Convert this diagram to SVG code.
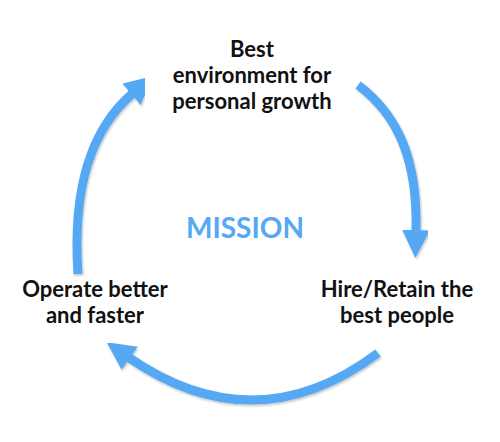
<svg xmlns="http://www.w3.org/2000/svg" width="500" height="442" viewBox="0 0 500 442">
<defs>
<style>
.lbl{font-family:Lato,"Liberation Sans",sans-serif;font-weight:bold;font-size:22px;fill:#111;text-anchor:middle}
.mission{font-family:Lato,"Liberation Sans",sans-serif;font-weight:bold;font-size:28px;fill:#55a8f4;text-anchor:middle}
.arc{fill:none;stroke:#55a8f4;stroke-width:9;marker-end:url(#ah);filter:url(#sh)}
</style>
<marker id="ah" markerUnits="userSpaceOnUse" markerWidth="30" markerHeight="30" refX="2" refY="14" orient="auto" viewBox="0 0 30 30">
<path d="M0,0 L28,14 L0,28 z" fill="#55a8f4"/>
</marker>
<filter id="sh" x="-20%" y="-20%" width="140%" height="140%">
<feDropShadow dx="1" dy="1.5" stdDeviation="1" flood-color="#000" flood-opacity="0.25"/>
</filter>
</defs>
<rect width="500" height="442" fill="#fff"/>
<g id="connectors">
<path class="arc" d="M358,85 C398,115 418,160 416,232"/>
<path class="arc" d="M378,353 Q255,445 128,357"/>
<path class="arc" d="M78,274 C72,185 92,128 133,93"/>
</g>
<g id="node-growth">
<text class="lbl" x="252" y="57">Best</text>
<text class="lbl" x="252" y="83">environment for</text>
<text class="lbl" x="252" y="109">personal growth</text>
</g>
<g id="node-mission">
<text class="mission" x="245" y="238">MISSION</text>
</g>
<g id="node-hire">
<text class="lbl" x="397" y="297">Hire/Retain the</text>
<text class="lbl" x="397" y="323">best people</text>
</g>
<g id="node-operate">
<text class="lbl" x="95" y="297">Operate better</text>
<text class="lbl" x="95" y="323">and faster</text>
</g>
</svg>
